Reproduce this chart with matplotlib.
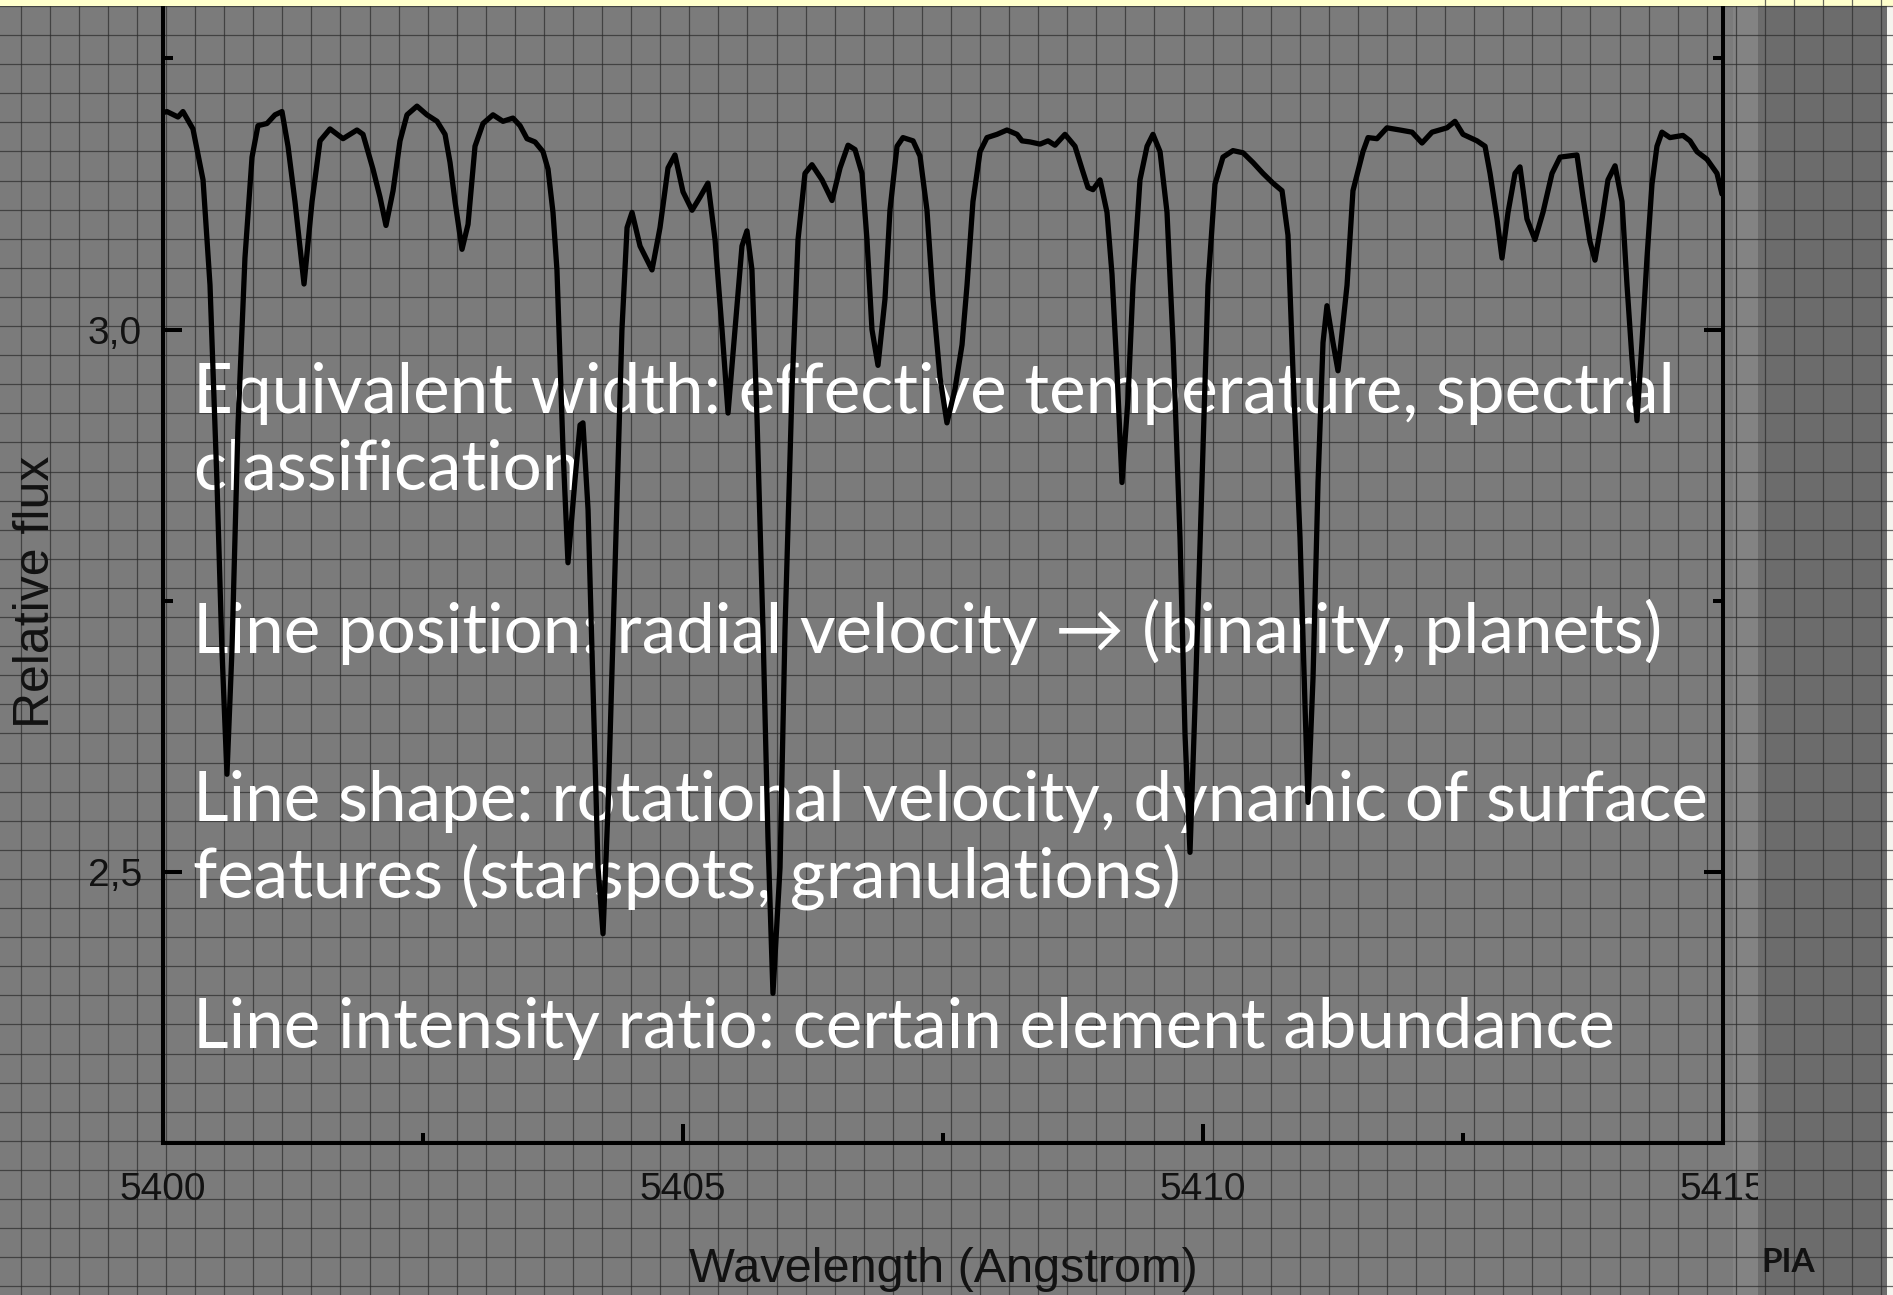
import numpy as np
import matplotlib
matplotlib.use("Agg")
import matplotlib.pyplot as plt
from matplotlib.patches import Rectangle
from matplotlib.ticker import FixedLocator, FixedFormatter

# ---------------------------------------------------------------- data
wavelength = [
    5400.000, 5400.038, 5400.144, 5400.192, 5400.288, 5400.385, 5400.452, 5400.519, 5400.567, 5400.615,
    5400.663, 5400.721, 5400.788, 5400.856, 5400.913, 5401.000, 5401.077, 5401.144, 5401.202, 5401.269,
    5401.356, 5401.433, 5401.510, 5401.606, 5401.731, 5401.865, 5401.923, 5402.019, 5402.087, 5402.144,
    5402.212, 5402.279, 5402.346, 5402.442, 5402.538, 5402.635, 5402.712, 5402.760, 5402.808, 5402.875,
    5402.933, 5403.000, 5403.077, 5403.173, 5403.269, 5403.365, 5403.433, 5403.500, 5403.577, 5403.654,
    5403.702, 5403.750, 5403.788, 5403.846, 5403.894, 5403.962, 5404.010, 5404.038, 5404.087, 5404.135,
    5404.183, 5404.231, 5404.279, 5404.346, 5404.413, 5404.462, 5404.510, 5404.587, 5404.702, 5404.779,
    5404.856, 5404.923, 5405.000, 5405.087, 5405.163, 5405.240, 5405.308, 5405.375, 5405.433, 5405.500,
    5405.567, 5405.615, 5405.663, 5405.712, 5405.769, 5405.817, 5405.865, 5405.933, 5405.981, 5406.048,
    5406.106, 5406.173, 5406.240, 5406.337, 5406.433, 5406.510, 5406.587, 5406.654, 5406.721, 5406.769,
    5406.817, 5406.875, 5406.942, 5406.990, 5407.058, 5407.115, 5407.212, 5407.279, 5407.346, 5407.404,
    5407.471, 5407.538, 5407.615, 5407.683, 5407.731, 5407.788, 5407.856, 5407.923, 5408.019, 5408.115,
    5408.212, 5408.260, 5408.337, 5408.433, 5408.510, 5408.577, 5408.673, 5408.769, 5408.837, 5408.894,
    5408.942, 5409.010, 5409.077, 5409.125, 5409.173, 5409.221, 5409.279, 5409.327, 5409.394, 5409.462,
    5409.519, 5409.587, 5409.654, 5409.712, 5409.779, 5409.827, 5409.875, 5409.923, 5409.990, 5410.048,
    5410.115, 5410.192, 5410.288, 5410.385, 5410.481, 5410.577, 5410.673, 5410.760, 5410.817, 5410.865,
    5410.933, 5410.981, 5411.010, 5411.058, 5411.106, 5411.154, 5411.192, 5411.250, 5411.298, 5411.385,
    5411.442, 5411.538, 5411.587, 5411.673, 5411.769, 5411.894, 5412.010, 5412.106, 5412.202, 5412.346,
    5412.423, 5412.500, 5412.635, 5412.712, 5412.760, 5412.827, 5412.875, 5412.933, 5413.000, 5413.048,
    5413.115, 5413.192, 5413.269, 5413.356, 5413.433, 5413.596, 5413.654, 5413.721, 5413.769, 5413.837,
    5413.894, 5413.962, 5414.029, 5414.077, 5414.125, 5414.173, 5414.221, 5414.269, 5414.317, 5414.365,
    5414.413, 5414.490, 5414.615, 5414.683, 5414.750, 5414.846, 5414.942, 5414.990,
]

relative_flux = [
    3.200, 3.201, 3.196, 3.201, 3.185, 3.138, 3.041, 2.859, 2.704, 2.590,
    2.704, 2.911, 3.066, 3.159, 3.188, 3.190, 3.198, 3.201, 3.169, 3.118,
    3.042, 3.118, 3.174, 3.185, 3.176, 3.184, 3.180, 3.148, 3.122, 3.096,
    3.128, 3.174, 3.198, 3.206, 3.198, 3.192, 3.180, 3.154, 3.118, 3.074,
    3.097, 3.169, 3.190, 3.198, 3.192, 3.195, 3.188, 3.176, 3.173, 3.164,
    3.148, 3.108, 3.055, 2.890, 2.785, 2.862, 2.912, 2.914, 2.834, 2.669,
    2.504, 2.443, 2.559, 2.779, 3.000, 3.094, 3.108, 3.077, 3.055, 3.094,
    3.149, 3.161, 3.127, 3.110, 3.122, 3.135, 3.083, 3.000, 2.923, 3.000,
    3.077, 3.091, 3.055, 2.917, 2.724, 2.531, 2.388, 2.504, 2.724, 2.945,
    3.083, 3.144, 3.152, 3.138, 3.119, 3.149, 3.170, 3.166, 3.144, 3.083,
    3.000, 2.967, 3.028, 3.110, 3.169, 3.177, 3.174, 3.160, 3.110, 3.028,
    2.956, 2.914, 2.945, 2.986, 3.041, 3.118, 3.164, 3.177, 3.180, 3.184,
    3.180, 3.174, 3.173, 3.171, 3.174, 3.170, 3.180, 3.169, 3.148, 3.131,
    3.129, 3.138, 3.108, 3.051, 2.962, 2.859, 2.936, 3.041, 3.138, 3.169,
    3.180, 3.164, 3.108, 2.988, 2.808, 2.627, 2.518, 2.653, 2.859, 3.041,
    3.134, 3.159, 3.165, 3.163, 3.154, 3.144, 3.135, 3.128, 3.087, 2.962,
    2.808, 2.653, 2.564, 2.679, 2.859, 2.988, 3.022, 2.988, 2.962, 3.041,
    3.128, 3.164, 3.177, 3.176, 3.186, 3.184, 3.182, 3.172, 3.182, 3.186,
    3.192, 3.180, 3.174, 3.169, 3.144, 3.102, 3.066, 3.108, 3.144, 3.150,
    3.102, 3.083, 3.108, 3.144, 3.159, 3.161, 3.122, 3.081, 3.064, 3.102,
    3.138, 3.151, 3.118, 3.041, 2.973, 2.916, 2.988, 3.066, 3.134, 3.169,
    3.182, 3.177, 3.179, 3.174, 3.164, 3.157, 3.144, 3.125,
]

x_major_ticks = [5400, 5405, 5410, 5415]
x_major_labels = ["5400", "5405", "5410", "5415"]
x_minor_ticks = [5402.5, 5407.5, 5412.5]
y_major_ticks = [2.5, 3.0]
y_major_labels = ["2,5", "3,0"]
y_minor_ticks = [2.75, 3.25]

x_title = "Wavelength (Angstrom)"
y_title = "Relative flux"
credit = "PIA"

notes = [
    "Equivalent width: effective temperature, spectral",
    "classification",
    "Line position: radial velocity \u2192 (binarity, planets)",
    "Line shape: rotational velocity, dynamic of surface",
    "features (starspots, granulations)",
    "Line intensity ratio: certain element abundance",
]

# ---------------------------------------------------------------- layout (pixels)
W, H, DPI = 1893, 1295, 100
AX_LEFT, AX_RIGHT, AX_BOTTOM = 163, 1723, 1143
STRIP_X = 1758
NOTE_X = 193
NOTE_BASELINES = [413, 489, 653, 821, 897, 1048]
NOTE_WIDTH = 1482          # width of the first note line

BG = "#7b7b7b"
STRIP = "#6c6c6c"
BAND = "#838383"
GRID = "#2a2a2a"
INK = "#121212"
SANS = ["Liberation Sans", "DejaVu Sans"]
NOTE_FONT = ["Lato", "DejaVu Sans"]


def fx(px):
    return px / W


def fy(py):
    return 1 - py / H


def draw_grid(axis, x0, x1):
    for gx in np.arange(20.7, W, 29.07):
        if x0 <= gx <= x1:
            axis.plot([gx, gx], [0, H], color=GRID, lw=0.9, alpha=0.7)
    for gy in np.arange(5.9, H, 29.1):
        axis.plot([x0, x1], [gy, gy], color=GRID, lw=0.9, alpha=0.7)


fig = plt.figure(figsize=(W / DPI, H / DPI), dpi=DPI, facecolor=BG)

# squared-paper background
bg = fig.add_axes([0, 0, 1, 1], zorder=0)
bg.set_xlim(0, W)
bg.set_ylim(H, 0)
bg.set_axis_off()
bg.add_patch(Rectangle((1733, 0), STRIP_X - 1733, H, color=BAND, lw=0))
draw_grid(bg, 0, W)

# spectrum axes
ax = fig.add_axes([fx(AX_LEFT), fy(AX_BOTTOM), (AX_RIGHT - AX_LEFT) / W, AX_BOTTOM / H],
                  zorder=1)
ax.patch.set_visible(False)
ax.plot(wavelength, relative_flux, color="black", lw=3.8, solid_joinstyle="round",
        solid_capstyle="round", zorder=3)
ax.set_xlim(5400, 5415)
ax.set_ylim(2.25, 3.0 + 330 / 1086)

for side in ("left", "bottom", "right"):
    ax.spines[side].set_linewidth(2.9)
    ax.spines[side].set_color("black")
ax.spines["top"].set_visible(False)

ax.xaxis.set_major_locator(FixedLocator(x_major_ticks))
ax.xaxis.set_major_formatter(FixedFormatter(x_major_labels))
ax.xaxis.set_minor_locator(FixedLocator(x_minor_ticks))
ax.yaxis.set_major_locator(FixedLocator(y_major_ticks))
ax.yaxis.set_major_formatter(FixedFormatter(y_major_labels))
ax.yaxis.set_minor_locator(FixedLocator(y_minor_ticks))

ax.tick_params(which="both", direction="in", color="black", width=2.9,
               left=True, right=True, bottom=True, top=False)
ax.tick_params(which="major", length=14)
ax.tick_params(which="minor", length=7)
ax.tick_params(axis="x", which="major", pad=21, labelsize=28, labelcolor=INK)
ax.tick_params(axis="y", which="major", pad=15, labelsize=28, labelcolor=INK)
for lab in ax.get_xticklabels() + ax.get_yticklabels():
    lab.set_family(SANS)

fig.text(fx(943), fy(1269), x_title, ha="center", va="center", fontsize=35,
         color=INK, family=SANS)
fig.text(fx(36), fy(592), y_title, ha="center", va="center", rotation=90,
         fontsize=36, color=INK, family=SANS)

# white notes sit under the spectrum trace
probe = fig.text(0, 0, notes[0], fontsize=50, family=NOTE_FONT)
fig.canvas.draw()
note_size = 50 * NOTE_WIDTH / probe.get_window_extent().width
probe.remove()
for line, base in zip(notes, NOTE_BASELINES):
    ax.text(fx(NOTE_X), fy(base), line, transform=fig.transFigure, ha="left",
            va="baseline", fontsize=note_size, color="white", family=NOTE_FONT,
            zorder=2, clip_on=False)

# darker panel at the right edge, with its own grid, and the top band
top = fig.add_axes([0, 0, 1, 1], zorder=5)
top.set_xlim(0, W)
top.set_ylim(H, 0)
top.set_axis_off()
top.add_patch(Rectangle((STRIP_X, 0), W - STRIP_X, H, color=STRIP, lw=0))
draw_grid(top, STRIP_X, W)
top.add_patch(Rectangle((1887, 0), W - 1887, H, color="#f4f4ee", lw=0))
top.add_patch(Rectangle((0, 0), W, 6, color="#ffffcc", lw=0))
top.text(1788, 1262, credit, ha="center", va="center", fontsize=24, color=INK,
         family=NOTE_FONT, fontweight="bold")

fig.savefig("out.png", dpi=DPI, facecolor=BG)
